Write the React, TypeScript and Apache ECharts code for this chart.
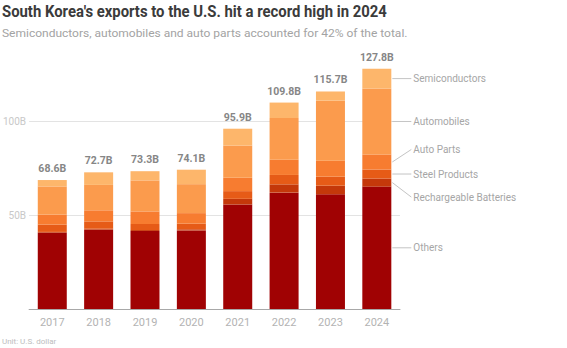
import React, { useEffect, useRef } from 'react';
import * as echarts from 'echarts';

const years = ['2017', '2018', '2019', '2020', '2021', '2022', '2023', '2024'];
const others = [40.6, 42.2, 41.5, 41.8, 55.6, 61.9, 61.0, 65.1];
const batteries = [0.4, 0.5, 0.5, 0.6, 3.0, 4.4, 4.6, 4.3];
const steel = [3.9, 3.9, 3.2, 3.0, 4.1, 5.0, 4.8, 4.8];
const autoParts = [5.3, 5.9, 6.7, 5.6, 7.1, 8.1, 8.5, 8.0];
const automobiles = [15.0, 13.5, 16.5, 15.4, 17.2, 22.2, 31.9, 35.1];
const semiconductors = [3.4, 6.7, 4.9, 7.7, 8.9, 8.2, 4.9, 10.5];
const totals = [68.6, 72.7, 73.3, 74.1, 95.9, 109.8, 115.7, 127.8];
const yTickLabels = [50, 100];

const seriesNames = ['Others', 'Rechargeable Batteries', 'Steel Products', 'Auto Parts', 'Automobiles', 'Semiconductors'];
const seriesData = [others, batteries, steel, autoParts, automobiles, semiconductors];
const colors = ['#a00203', '#c4380a', '#e65b17', '#f77c30', '#fb9b4d', '#fdb66b'];
const labelShift = [0, 14.5, 0, -12.5, 0, 0];

const TITLE = "South Korea's exports to the U.S. hit a record high in 2024";
const SUBTITLE = 'Semiconductors, automobiles and auto parts accounted for 42% of the total.';
const FOOTNOTE = 'Unit: U.S. dollar';

function fitScale(text: string, font: string, target: number): number {
  const c = document.createElement('canvas');
  const ctx = c.getContext('2d');
  if (!ctx) return 1;
  ctx.font = font;
  const w = ctx.measureText(text).width;
  return w > 0 ? target / w : 1;
}

export default function App() {
  const ref = useRef<HTMLDivElement>(null);
  useEffect(() => {
    if (!ref.current) return;
    const chart = echarts.init(ref.current, undefined, { renderer: 'svg' });
    const barW = 29;
    chart.setOption({
      animation: false,
      grid: { left: 25, right: 167, top: 27, bottom: 39 },
      xAxis: {
        type: 'category',
        data: years,
        axisTick: { show: false },
        axisLine: { lineStyle: { color: '#a8a8a8', width: 1 } },
        axisLabel: { color: '#b3b3b3', fontSize: 11, margin: 8, fontFamily: 'Roboto' },
      },
      yAxis: {
        type: 'value',
        min: 0,
        max: 150,
        interval: 50,
        axisLine: { show: false },
        axisTick: { show: false },
        axisLabel: {
          formatter: (v: number) => (yTickLabels.includes(v) ? v + 'B' : ''),
          color: '#c8c8c8',
          fontSize: 10,
          margin: 3,
          fontFamily: 'Roboto',
        },
        splitLine: { showMinLine: false, showMaxLine: false, lineStyle: { color: '#e3e3e3', width: 1 } },
      },
      series: seriesNames.map((name, i) => ({
        type: 'bar',
        name,
        stack: 'total',
        data: seriesData[i],
        barWidth: barW,
        itemStyle: { color: colors[i] },
        label:
          i === seriesNames.length - 1
            ? {
                show: true,
                position: 'top',
                distance: 6,
                formatter: (p: any) => totals[p.dataIndex].toFixed(1) + 'B',
                color: '#868686',
                fontWeight: 'bold',
                fontSize: 10.5,
                fontFamily: 'Roboto',
              }
            : { show: false },
      })),
    });

    const g: any[] = [];
    const titleFont = 'bold 16px Roboto';
    const subFont = '11px Roboto';
    g.push({
      type: 'text',
      x: 2,
      y: 12,
      scaleX: fitScale(TITLE, titleFont, 385),
      style: { text: TITLE, fontSize: 16, fontWeight: 'bold', fontFamily: 'Roboto', fill: '#3b3b3b', verticalAlign: 'middle' },
    });
    g.push({
      type: 'text',
      x: 2,
      y: 33,
      scaleX: fitScale(SUBTITLE, subFont, 406),
      style: { text: SUBTITLE, fontSize: 11, fontFamily: 'Roboto', fill: '#a3a3a3', verticalAlign: 'middle' },
    });
    g.push({
      type: 'text',
      x: 2,
      y: 337,
      style: { text: FOOTNOTE, fontSize: 8, fontFamily: 'Roboto', fill: '#bdbdbd', verticalAlign: 'top' },
    });

    const last = years.length - 1;
    let cum = 0;
    seriesData.forEach((arr, i) => {
      const v = arr[last];
      const mid = cum + v / 2;
      cum += v;
      const pt = chart.convertToPixel({ xAxisIndex: 0, yAxisIndex: 0 }, [years[last], mid]) as number[];
      const edge = pt[0] + barW / 2;
      const ty = pt[1] + labelShift[i];
      g.push({
        type: 'line',
        shape: { x1: edge + 1, y1: pt[1], x2: edge + 20, y2: ty },
        style: { stroke: '#c4c4c4', lineWidth: 1 },
      });
      g.push({
        type: 'text',
        x: edge + 22,
        y: ty,
        style: { text: seriesNames[i], fontSize: 10, fontFamily: 'Roboto', fill: '#a6a6a6', verticalAlign: 'middle' },
      });
    });
    chart.setOption({ graphic: g });

    return () => chart.dispose();
  }, []);
  return <div ref={ref} style={{ width: 567, height: 348, position: 'absolute', left: 0, top: 0 }} />;
}
